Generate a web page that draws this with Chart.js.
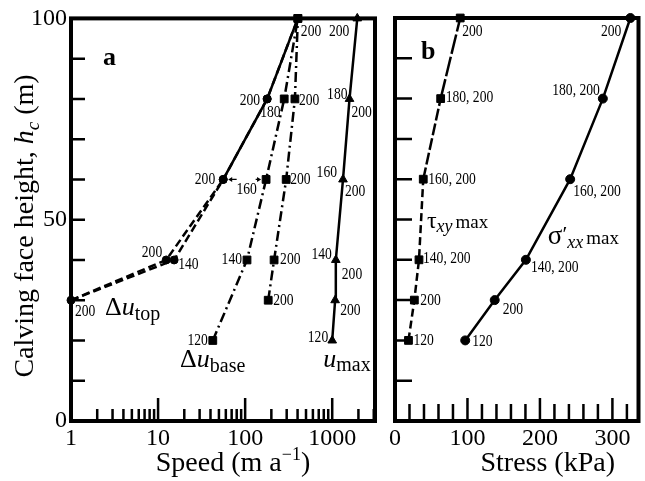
<!DOCTYPE html>
<html><head><meta charset="utf-8">
<script src="https://cdn.jsdelivr.net/npm/chart.js@4"></script>
<style>
html,body{margin:0;padding:0;background:#fff;}
#wrap{position:relative;width:645px;height:481px;overflow:hidden;}
#ca{position:absolute;left:0;top:0;width:385px;height:481px;}
#cb{position:absolute;left:385px;top:0;width:260px;height:481px;}
</style></head><body>
<div id="wrap"><div id="ca"><canvas id="chartA"></canvas></div><div id="cb"><canvas id="chartB"></canvas></div></div>
<script>
// ---------- data ----------
const heightTicks = [0, 50, 100];
const heightMinorTicks = [10, 20, 30, 40, 50, 60, 70, 80, 90];
const speedTicks = [1, 10, 100, 1000];
const speedMajorTicks = [10, 100, 1000];
const speedMinorTicks = [2,3,4,5,6,7,8,9,20,30,40,50,60,70,80,90,200,300,400,500,600,700,800,900,2000,3000];
const stressTicks = [0, 100, 200, 300];
const stressMajorTicks = [100, 200, 300];
const stressMinorTicks = [20,40,60,80,120,140,160,180,220,240,260,280,320];

// panel a: speeds (m/a) vs calving face height (m)
const duTopA_speed  = [1, 12.4, 56, 179, 403];
const duTopA_height = [30, 40, 60, 80, 100];
const duTopA_labels = ['200', '200', '200', '200', '200'];
const duTopB_speed  = [1, 15.3, 56, 179, 403];
const duTopB_height = [30, 40, 60, 80, 100];
const duTopB_labels = ['', '140', '', '180', ''];
const duBaseA_speed  = [42.5, 105, 174, 281, 403];
const duBaseA_height = [20, 40, 60, 80, 100];
const duBaseA_labels = ['120', '140', '', '', ''];
const duBaseB_speed  = [184, 215, 296, 373, 403];
const duBaseB_height = [30, 40, 60, 80, 100];
const duBaseB_labels = ['200', '200', '200', '200', ''];
const uMax_speed  = [1000, 1080, 1100, 1330, 1580, 1940];
const uMax_height = [20, 30, 40, 60, 80, 100];
const uMax_labelsL = ['120', '', '140', '160', '180', '200'];
const uMax_labelsR = ['', '200', '200', '200', '200', ''];
const sharedLabel60 = '160';

// panel b: stress (kPa) vs calving face height (m)
const tau_stress = [18.6, 26.7, 33.1, 39, 63, 90];
const tau_height = [20, 30, 40, 60, 80, 100];
const tau_labels = ['120', '200', '140, 200', '160, 200', '180, 200', '200'];
const sigma_stress = [96.9, 137.6, 180.6, 241.7, 286.8, 324.8];
const sigma_height = [20, 30, 40, 60, 80, 100];
const sigma_labels = ['120', '200', '140, 200', '160, 200', '180, 200', '200'];

// ---------- styling ----------
const SERIF = '"Liberation Serif", "Times New Roman", serif';
Chart.defaults.font.family = SERIF;
Chart.defaults.color = '#000';
const F = (size, style) => (style ? style + ' ' : '') + size + 'px ' + SERIF;

const PLACE = {
  duTopA: [['l',4,11],['r',-4,-7],['r',-8,0],['r',-7,2],['l',3,13]],
  duTopB: [null,['l',4,5],null,['l',-7,14],null],
  duBaseA: [['r',-5,0],['r',-5,0],null,null,null],
  duBaseB: [['l',5,0],['l',6,0],['l',4,0],['l',4,2],null],
  uMaxL: [['r',-4,-3],null,['r',-4,-5],['r',-6,-7],['r',-2,-4],['r',-8,13]],
  uMaxR: [null,['l',5,10],['l',6,15],['l',2,12],['l',2,14],null],
  tau: [['l',5,0],['l',6,0],['l',4,-1],['l',5,0],['l',5,-1],['l',2,14]],
  sigma: [['l',7,1],['l',8,9],['l',5,8],['l',3,12],['r',-3,-8],['r',-9,14]]
};

function pts(xs, ys) { return xs.map((x, i) => ({ x: x, y: ys[i] })); }

function drawRich(ctx, parts, x, y, align) {
  let w = 0;
  parts.forEach(p => { ctx.font = p.f; w += ctx.measureText(p.t).width + (p.gap || 0); });
  let cx = align === 'center' ? x - w / 2 : (align === 'right' ? x - w : x);
  ctx.textAlign = 'left'; ctx.textBaseline = 'alphabetic'; ctx.fillStyle = '#000';
  parts.forEach(p => {
    ctx.font = p.f; ctx.fillText(p.t, cx, y + (p.dy || 0));
    cx += ctx.measureText(p.t).width + (p.gap || 0);
  });
}

function drawPointLabels(chart, specs) {
  const ctx = chart.ctx;
  specs.forEach(s => {
    const meta = chart.getDatasetMeta(s.ds);
    s.texts.forEach((t, i) => {
      const p = s.place[i];
      if (!t || !p) return;
      const el = meta.data[i];
      ctx.save();
      ctx.translate(el.x + p[1], el.y + p[2]);
      ctx.scale(0.8, 1);
      ctx.font = F(17); ctx.fillStyle = '#000';
      ctx.textAlign = p[0] === 'l' ? 'left' : 'right';
      ctx.textBaseline = 'middle';
      ctx.fillText(t, 0, 0);
      ctx.restore();
    });
  });
}

function frameAndTicks(chart, cfg) {
  const ctx = chart.ctx, a = chart.chartArea, xs = chart.scales.x, ys = chart.scales.y;
  ctx.save();
  ctx.strokeStyle = '#000';
  ctx.lineWidth = 2.5;
  ctx.beginPath();
  heightMinorTicks.forEach(v => { const y = ys.getPixelForValue(v); ctx.moveTo(a.left, y); ctx.lineTo(a.left + cfg.yLen, y); });
  cfg.minor.forEach(v => { const x = xs.getPixelForValue(v); if (x < a.right - 1) { ctx.moveTo(x, a.bottom); ctx.lineTo(x, a.bottom - cfg.minLen); } });
  cfg.major.forEach(v => { const x = xs.getPixelForValue(v); ctx.moveTo(x, a.bottom); ctx.lineTo(x, a.bottom - cfg.majLen); });
  ctx.stroke();
  ctx.lineWidth = 4;
  ctx.strokeRect(a.left, a.top, a.right - a.left, a.bottom - a.top);
  ctx.restore();
}

function lineDs(data, o) {
  return Object.assign({
    data: data, showLine: true, borderColor: '#000', backgroundColor: '#000',
    pointBorderColor: '#000', pointBackgroundColor: '#000', pointBorderWidth: 1,
    borderWidth: 2.5, clip: false, tension: 0
  }, o);
}

const common = {
  responsive: true, maintainAspectRatio: false, animation: false, events: [],
  plugins: { legend: { display: false }, tooltip: { enabled: false } }
};

// ---------- panel a ----------
new Chart(document.getElementById('chartA'), {
  type: 'scatter',
  data: {
    datasets: [
      lineDs(pts(duTopA_speed, duTopA_height), { label: 'Δu_top 200', borderDash: [8, 4], pointStyle: 'circle', pointRadius: [4, 4, 4, 4, 0],
        segment: { borderDash: c => c.p0DataIndex >= 2 ? [] : undefined } }),
      lineDs(pts(duTopB_speed, duTopB_height), { label: 'Δu_top', borderDash: [8, 4], pointStyle: 'circle', pointRadius: [0, 4, 4, 4, 0] }),
      lineDs(pts(duBaseA_speed, duBaseA_height), { label: 'Δu_base', borderDash: [10, 4, 2, 4], pointStyle: 'rect', pointRadius: 5.5 }),
      lineDs(pts(duBaseB_speed, duBaseB_height), { label: 'Δu_base 200', borderDash: [10, 4, 2, 4], pointStyle: 'rect', pointRadius: 5.5 }),
      lineDs(pts(uMax_speed, uMax_height), { label: 'u_max', pointStyle: 'triangle', pointRadius: 5 })
    ]
  },
  options: Object.assign({}, common, {
    layout: { padding: { left: 0, right: 10, top: 18, bottom: 0 } },
    scales: {
      x: {
        type: 'logarithmic', min: 1, max: 3100, position: 'bottom',
        grid: { display: false, drawTicks: false }, border: { display: false },
        ticks: { font: { size: 24 }, color: '#000', padding: 3, maxRotation: 0, autoSkip: false, callback: v => String(v) },
        afterBuildTicks: s => { s.ticks = speedTicks.map(v => ({ value: v })); },
        afterFit: s => { s.height = 60; }
      },
      y: {
        type: 'linear', min: 0, max: 100,
        grid: { display: false, drawTicks: false }, border: { display: false },
        ticks: { font: { size: 24 }, color: '#000', padding: 4, callback: v => String(v) },
        afterBuildTicks: s => { s.ticks = heightTicks.map(v => ({ value: v })); },
        afterFit: s => { s.width = 71; }
      }
    }
  }),
  plugins: [{
    id: 'decorA',
    beforeDatasetsDraw(chart) {
      frameAndTicks(chart, { yLen: 14, minLen: 12, majLen: 23, minor: speedMinorTicks, major: speedMajorTicks });
    },
    afterDatasetsDraw(chart) {
      const ctx = chart.ctx, a = chart.chartArea, xs = chart.scales.x, ys = chart.scales.y;
      drawPointLabels(chart, [
        { ds: 0, texts: duTopA_labels, place: PLACE.duTopA },
        { ds: 1, texts: duTopB_labels, place: PLACE.duTopB },
        { ds: 2, texts: duBaseA_labels, place: PLACE.duBaseA },
        { ds: 3, texts: duBaseB_labels, place: PLACE.duBaseB },
        { ds: 4, texts: uMax_labelsL, place: PLACE.uMaxL },
        { ds: 4, texts: uMax_labelsR, place: PLACE.uMaxR }
      ]);
      // shared "160" label with arrows between Δu_top and Δu_base points at 60 m
      const c = chart.getDatasetMeta(0).data[2], s = chart.getDatasetMeta(2).data[2];
      const mid = (c.x + s.x) / 2;
      ctx.save();
      ctx.translate(mid + 2, c.y + 10); ctx.scale(0.8, 1);
      ctx.font = F(17); ctx.textAlign = 'center'; ctx.textBaseline = 'middle'; ctx.fillStyle = '#000';
      ctx.fillText(sharedLabel60, 0, 0);
      ctx.restore();
      ctx.save();
      ctx.strokeStyle = '#000'; ctx.fillStyle = '#000'; ctx.lineWidth = 1.2;
      const y = c.y;
      const l0 = mid - 8, l1 = c.x + 5, r0 = mid + 11, r1 = s.x - 5;
      ctx.beginPath(); ctx.moveTo(l0, y); ctx.lineTo(l1 + 3, y); ctx.moveTo(r0, y); ctx.lineTo(r1 - 3, y); ctx.stroke();
      ctx.beginPath(); ctx.moveTo(l1, y); ctx.lineTo(l1 + 4, y - 2.5); ctx.lineTo(l1 + 4, y + 2.5); ctx.closePath(); ctx.fill();
      ctx.beginPath(); ctx.moveTo(r1, y); ctx.lineTo(r1 - 4, y - 2.5); ctx.lineTo(r1 - 4, y + 2.5); ctx.closePath(); ctx.fill();
      ctx.restore();
      // series names
      drawRich(ctx, [{ t: 'Δ', f: F(26) }, { t: 'u', f: F(26, 'italic') }, { t: 'top', f: F(20), dy: 5 }],
        xs.getPixelForValue(2.46), ys.getPixelForValue(26.3), 'left');
      drawRich(ctx, [{ t: 'Δ', f: F(26) }, { t: 'u', f: F(26, 'italic') }, { t: 'base', f: F(20), dy: 5 }],
        xs.getPixelForValue(17.9), ys.getPixelForValue(13.4), 'left');
      drawRich(ctx, [{ t: 'u', f: F(26, 'italic') }, { t: 'max', f: F(20), dy: 4 }],
        xs.getPixelForValue(788), ys.getPixelForValue(13.4), 'left');
      // panel letter
      ctx.save(); ctx.font = F(26, 'bold'); ctx.fillStyle = '#000'; ctx.textAlign = 'left'; ctx.textBaseline = 'alphabetic';
      ctx.fillText('a', a.left + 32, a.top + 47); ctx.restore();
      // axis titles
      drawRich(ctx, [{ t: 'Speed (m a', f: F(28) }, { t: '−1', f: F(18), dy: -11 }, { t: ')', f: F(28) }],
        (a.left + a.right) / 2 + 10, 471, 'center');
      ctx.save();
      ctx.translate(33, 226); ctx.rotate(-Math.PI / 2);
      drawRich(ctx, [{ t: 'Calving face height, ', f: F(28) }, { t: 'h', f: F(28, 'italic') }, { t: 'c', f: F(19, 'italic'), dy: 6 }, { t: ' (m)', f: F(28) }], 0, 0, 'center');
      ctx.restore();
    }
  }]
});

// ---------- panel b ----------
new Chart(document.getElementById('chartB'), {
  type: 'scatter',
  data: {
    datasets: [
      lineDs(pts(tau_stress, tau_height), { label: 'τxy max', borderDash: [8, 4], pointStyle: 'rect', pointRadius: 5.5,
        segment: { borderDash: c => c.p0DataIndex >= 4 ? [20, 3] : (c.p0DataIndex === 3 ? [12, 3] : undefined) } }),
      lineDs(pts(sigma_stress, sigma_height), { label: "σ'xx max", pointStyle: 'circle', pointRadius: 4.5 })
    ]
  },
  options: Object.assign({}, common, {
    layout: { padding: { left: 0, right: 2, top: 18, bottom: 0 } },
    scales: {
      x: {
        type: 'linear', min: 0, max: 336, position: 'bottom',
        grid: { display: false, drawTicks: false }, border: { display: false },
        ticks: { font: { size: 24 }, color: '#000', padding: 3, maxRotation: 0, autoSkip: false, includeBounds: false, callback: v => String(v) },
        afterBuildTicks: s => { s.ticks = stressTicks.map(v => ({ value: v })); },
        afterFit: s => { s.height = 60; }
      },
      y: {
        type: 'linear', min: 0, max: 100,
        grid: { display: false, drawTicks: false }, border: { display: false },
        ticks: { display: false },
        afterBuildTicks: s => { s.ticks = heightTicks.map(v => ({ value: v })); },
        afterFit: s => { s.width = 10; }
      }
    }
  }),
  plugins: [{
    id: 'decorB',
    beforeDatasetsDraw(chart) {
      frameAndTicks(chart, { yLen: 17, minLen: 17, majLen: 23, minor: stressMinorTicks, major: stressMajorTicks });
    },
    afterDatasetsDraw(chart) {
      const ctx = chart.ctx, a = chart.chartArea, xs = chart.scales.x, ys = chart.scales.y;
      drawPointLabels(chart, [
        { ds: 0, texts: tau_labels, place: PLACE.tau },
        { ds: 1, texts: sigma_labels, place: PLACE.sigma }
      ]);
      drawRich(ctx, [{ t: 'τ', f: F(24) }, { t: 'xy', f: F(18, 'italic'), dy: 4, gap: 3 }, { t: 'max', f: F(19) }],
        xs.getPixelForValue(44), ys.getPixelForValue(47.9), 'left');
      drawRich(ctx, [{ t: 'σ', f: F(27) }, { t: '′', f: F(22), dy: -3 }, { t: 'xx', f: F(18, 'italic'), dy: 4, gap: 3 }, { t: 'max', f: F(19) }],
        xs.getPixelForValue(210.9), ys.getPixelForValue(43.8), 'left');
      ctx.save(); ctx.font = F(26, 'bold'); ctx.fillStyle = '#000'; ctx.textAlign = 'left'; ctx.textBaseline = 'alphabetic';
      ctx.fillText('b', a.left + 26, a.top + 41); ctx.restore();
      drawRich(ctx, [{ t: 'Stress (kPa)', f: F(28) }], (a.left + a.right) / 2 + 31, 471, 'center');
    }
  }]
});
</script>
</body></html>
